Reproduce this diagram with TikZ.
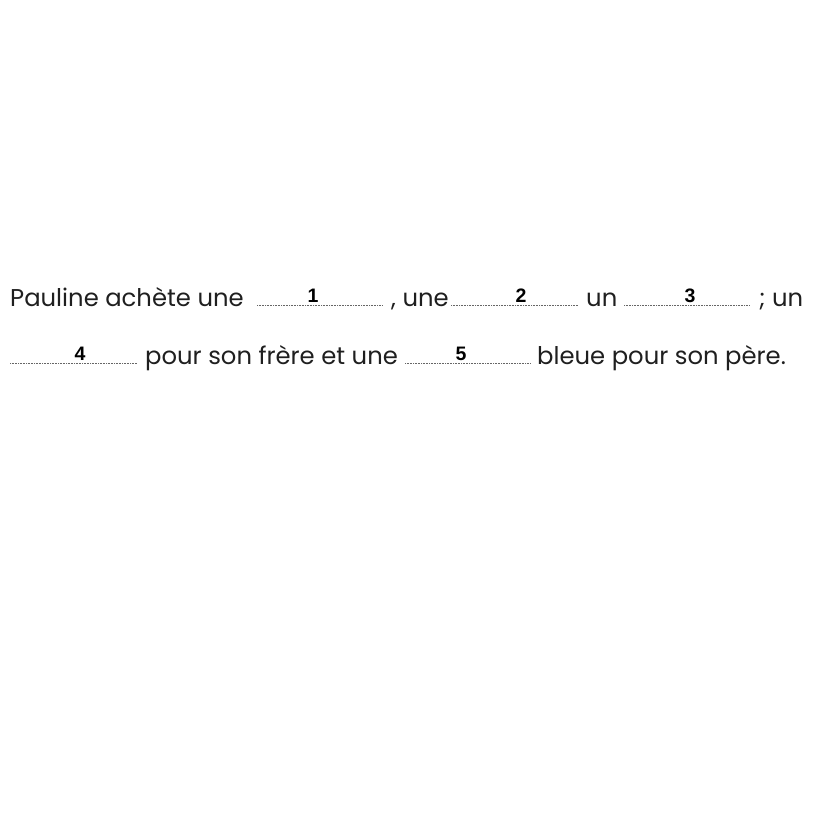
\documentclass[tikz,border=0pt]{standalone}
\usepackage{fontspec}
\setmainfont{Poppins}
\newfontfamily\numfont{Liberation Sans}
\begin{document}
\begin{tikzpicture}[x=1pt,y=-1pt,
  txt/.style={anchor=base west,inner sep=0pt,font=\fontsize{24.3}{29}\selectfont,text=black!88},
  num/.style={anchor=base,inner sep=0pt,font=\numfont\bfseries\fontsize{19.5}{23}\selectfont},
  blank/.style={draw=black!60,line width=0.6pt,dash pattern=on 0.8pt off 0.8pt}]
\useasboundingbox (0,0) rectangle (816,816);
% line 1
\node[txt] (t1) at (10,306) {Pauline achète une};
\draw[blank] (257,305) -- (383,305);
\node[num] (n1) at (313,302) {1};
\node[txt] (t2) at (391,306) {, une};
\draw[blank] (451,305) -- (578,305);
\node[num] (n2) at (521,302) {2};
\node[txt] (t3) at (586,306) {un};
\draw[blank] (624,305) -- (750,305);
\node[num] (n3) at (690,302) {3};
\node[txt] (t4) at (759,306) {; un};
% line 2
\draw[blank] (10,363) -- (137,363);
\node[num] (n4) at (80,360) {4};
\node[txt] (t5) at (145,364) {pour son frère et une};
\draw[blank] (405,363) -- (531,363);
\node[num] (n5) at (461,360) {5};
\node[txt] (t6) at (537,364) {bleue pour son père.};
\end{tikzpicture}
\end{document}
